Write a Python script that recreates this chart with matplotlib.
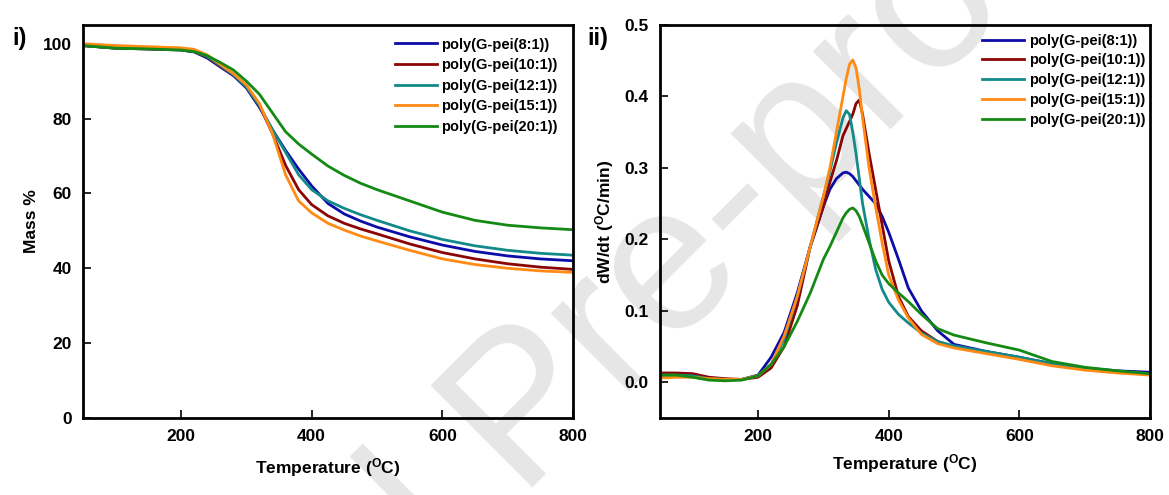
import matplotlib
matplotlib.use("Agg")
import matplotlib.pyplot as plt

plt.rcParams['font.family'] = ['Liberation Sans', 'DejaVu Sans']
plt.rcParams['font.weight'] = 'bold'
plt.rcParams['mathtext.fontset'] = 'custom'
plt.rcParams['mathtext.rm'] = 'Liberation Sans:bold'
plt.rcParams['mathtext.bf'] = 'Liberation Sans:bold'
plt.rcParams['mathtext.default'] = 'bf'

labels = ['poly(G-pei(8:1))', 'poly(G-pei(10:1))', 'poly(G-pei(12:1))',
          'poly(G-pei(15:1))', 'poly(G-pei(20:1))']
colors = ['#0c0ca8', '#8b0505', '#138a8a', '#ff8a14', '#148a14']

# TGA, mass %
tga_t = [50, 100, 150, 200, 220, 240, 260, 280, 300, 320, 340, 360, 380, 400,
         425, 450, 475, 500, 550, 600, 650, 700, 750, 800]
tga_8 = [99.5, 98.8, 98.6, 98.3, 97.8, 96.2, 93.8, 91.5, 88.2, 83.0, 77.0, 71.5,
         66.5, 62.0, 57.3, 54.5, 52.6, 51.0, 48.4, 46.2, 44.5, 43.3, 42.5, 42.0]
tga_10 = [99.5, 98.8, 98.6, 98.4, 97.9, 96.5, 94.0, 91.8, 88.5, 83.5, 76.0, 67.5,
          61.0, 57.0, 54.0, 52.0, 50.5, 49.2, 46.5, 44.2, 42.5, 41.2, 40.3, 39.7]
tga_12 = [99.5, 98.9, 98.7, 98.5, 98.0, 96.6, 94.2, 91.8, 88.5, 83.5, 77.0, 71.0,
          65.0, 61.0, 58.0, 56.0, 54.3, 52.8, 50.0, 47.7, 46.0, 44.8, 44.0, 43.5]
tga_15 = [100.0, 99.5, 99.2, 98.9, 98.5, 97.0, 94.5, 92.0, 89.0, 84.0, 76.0, 65.0,
          58.0, 54.8, 52.0, 50.2, 48.6, 47.3, 44.8, 42.5, 41.0, 40.0, 39.3, 38.9]
tga_20 = [99.5, 98.8, 98.6, 98.3, 97.9, 96.8, 95.0, 93.0, 90.0, 86.5, 81.5, 76.5,
          73.2, 70.5, 67.3, 64.8, 62.7, 61.0, 58.0, 55.0, 52.8, 51.5, 50.8, 50.3]

# DTG, dW/dt
dtg_t = [50, 75, 100, 125, 150, 175, 200, 220, 240, 260, 280, 300, 310, 320, 330,
         335, 340, 345, 350, 355, 360, 370, 380, 390, 400, 415, 430, 450, 475,
         500, 550, 600, 650, 700, 750, 800]
dtg_8 = [0.010, 0.010, 0.009, 0.006, 0.004, 0.004, 0.010, 0.035, 0.070, 0.125,
         0.190, 0.246, 0.270, 0.285, 0.293, 0.294, 0.292, 0.288, 0.282, 0.276,
         0.270, 0.260, 0.250, 0.232, 0.210, 0.172, 0.132, 0.100, 0.072, 0.053,
         0.043, 0.035, 0.026, 0.020, 0.016, 0.014]
dtg_10 = [0.013, 0.013, 0.012, 0.007, 0.005, 0.004, 0.007, 0.020, 0.050, 0.107,
          0.190, 0.246, 0.280, 0.310, 0.345, 0.355, 0.365, 0.375, 0.390, 0.395,
          0.375, 0.320, 0.270, 0.220, 0.170, 0.120, 0.092, 0.072, 0.057, 0.049,
          0.041, 0.034, 0.025, 0.018, 0.015, 0.012]
dtg_12 = [0.010, 0.010, 0.009, 0.005, 0.004, 0.004, 0.009, 0.025, 0.060, 0.120,
          0.190, 0.260, 0.295, 0.335, 0.370, 0.380, 0.375, 0.350, 0.320, 0.285,
          0.250, 0.200, 0.158, 0.130, 0.112, 0.095, 0.083, 0.069, 0.057, 0.051,
          0.043, 0.035, 0.026, 0.019, 0.015, 0.011]
dtg_15 = [0.006, 0.007, 0.007, 0.005, 0.004, 0.004, 0.009, 0.025, 0.065, 0.120,
          0.190, 0.260, 0.300, 0.350, 0.400, 0.425, 0.445, 0.451, 0.440, 0.410,
          0.370, 0.300, 0.245, 0.195, 0.150, 0.115, 0.090, 0.067, 0.054, 0.048,
          0.040, 0.032, 0.023, 0.017, 0.013, 0.010]
dtg_20 = [0.010, 0.010, 0.007, 0.003, 0.002, 0.003, 0.009, 0.025, 0.050, 0.085,
          0.125, 0.172, 0.190, 0.210, 0.230, 0.237, 0.242, 0.244, 0.240, 0.232,
          0.220, 0.195, 0.170, 0.150, 0.138, 0.125, 0.113, 0.095, 0.075, 0.066,
          0.055, 0.045, 0.029, 0.021, 0.016, 0.012]

fig = plt.figure(figsize=(11.69, 4.95), dpi=100)

# watermark behind everything
fig.text(-0.003, -1.067, 'Journal Pre-proof', fontsize=150, fontweight='normal',
         color='#e6e6e6', rotation=45, rotation_mode='anchor',
         ha='left', va='baseline', zorder=-10)

ax1 = fig.add_axes([0.0710, 0.1556, 0.4192, 0.7939])
ax2 = fig.add_axes([0.5646, 0.1556, 0.4192, 0.7939])

for s, c, lab in zip([tga_8, tga_10, tga_12, tga_15, tga_20], colors, labels):
    ax1.plot(tga_t, s, color=c, lw=2, label=lab)
for s, c, lab in zip([dtg_8, dtg_10, dtg_12, dtg_15, dtg_20], colors, labels):
    ax2.plot(dtg_t, s, color=c, lw=2, label=lab)

ax1.set_xlim(50, 800)
ax1.set_ylim(0, 105)
ax1.set_xticks([200, 400, 600, 800])
ax1.set_yticks([0, 20, 40, 60, 80, 100])
ax1.set_ylabel('Mass %', fontsize=12.5, fontweight='bold', labelpad=3)
ax1.set_xlabel(r'Temperature ($^{O}$C)', fontsize=12.5, fontweight='bold', labelpad=9)

ax2.set_xlim(50, 800)
ax2.set_ylim(-0.05, 0.5)
ax2.set_xticks([200, 400, 600, 800])
ax2.set_yticks([0.0, 0.1, 0.2, 0.3, 0.4, 0.5])
ax2.set_yticklabels(['0.0', '0.1', '0.2', '0.3', '0.4', '0.5'])
ax2.set_ylabel(r'dW/dt ($^{O}$C/min)', fontsize=12.5, fontweight='bold', labelpad=6)
ax2.set_xlabel(r'Temperature ($^{O}$C)', fontsize=12.5, fontweight='bold', labelpad=6)

for ax in (ax1, ax2):
    ax.set_facecolor('none')
    for sp in ax.spines.values():
        sp.set_linewidth(2)
    ax.tick_params(direction='in', length=6, width=1.2, labelsize=12.5, pad=8)
    for t in ax.get_xticklabels() + ax.get_yticklabels():
        t.set_fontweight('bold')

ax1.legend(loc='upper right', bbox_to_anchor=(0.969, 0.968), frameon=False,
           fontsize=10.5, handlelength=2.9, handletextpad=0.3, labelspacing=0.45,
           borderpad=0, borderaxespad=0)
ax2.legend(loc='upper right', bbox_to_anchor=(0.99, 0.978), frameon=False,
           fontsize=10.5, handlelength=2.9, handletextpad=0.3, labelspacing=0.4,
           borderpad=0, borderaxespad=0)

fig.text(12 / 1169, 1 - 39 / 495, 'i)', fontsize=17, fontweight='bold', va='center')
fig.text(587 / 1169, 1 - 39 / 495, 'ii)', fontsize=17, fontweight='bold', va='center')

fig.savefig('out.png', dpi=100)
